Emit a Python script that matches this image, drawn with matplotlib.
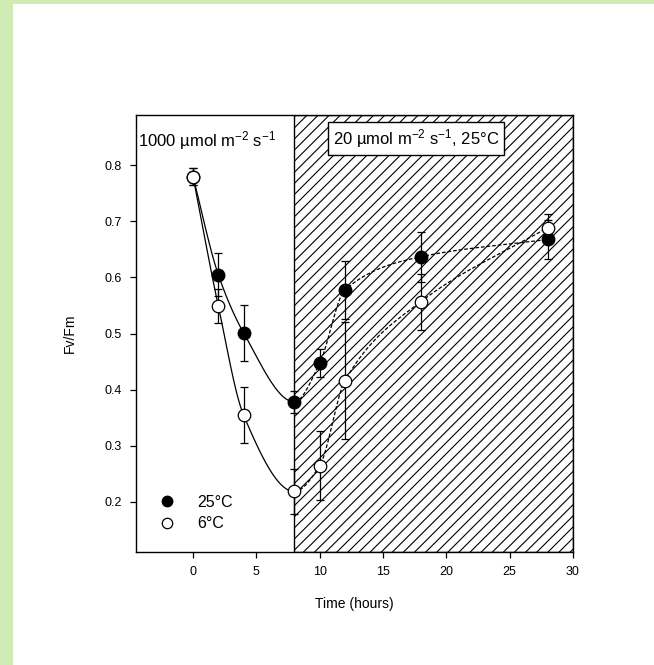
import numpy as np
import matplotlib
matplotlib.use('Agg')
import matplotlib.pyplot as plt
from matplotlib.lines import Line2D
from matplotlib.patches import Rectangle

plt.rcParams['font.family'] = ['Liberation Sans', 'DejaVu Sans']
plt.rcParams['mathtext.fontset'] = 'custom'
plt.rcParams['mathtext.rm'] = 'Liberation Sans'
plt.rcParams['mathtext.default'] = 'rm'
plt.rcParams['hatch.linewidth'] = 0.8

# Time points (hours) and Fv/Fm values
time = [0, 2, 4, 8, 10, 12, 18, 28]
fvfm_25 = [0.78, 0.605, 0.501, 0.378, 0.447, 0.578, 0.637, 0.668]
err_25 = [0.015, 0.038, 0.05, 0.02, 0.025, 0.052, 0.045, 0.035]
fvfm_6 = [0.78, 0.549, 0.354, 0.218, 0.264, 0.416, 0.557, 0.689]
err_6 = [0.015, 0.03, 0.05, 0.04, 0.062, 0.105, 0.05, 0.025]

light_switch = 8  # hours, start of low-light recovery


def pchip(x, y, xn):
    # monotone cubic curve through the points, for drawing only
    x = np.asarray(x, float)
    y = np.asarray(y, float)
    h = np.diff(x)
    d = np.diff(y) / h
    m = np.zeros_like(y)
    m[0], m[-1] = d[0], d[-1]
    for k in range(1, len(x) - 1):
        if d[k - 1] * d[k] > 0:
            w1 = 2 * h[k] + h[k - 1]
            w2 = h[k] + 2 * h[k - 1]
            m[k] = (w1 + w2) / (w1 / d[k - 1] + w2 / d[k])
    idx = np.clip(np.searchsorted(x, xn) - 1, 0, len(x) - 2)
    t = (xn - x[idx]) / h[idx]
    h00 = 2 * t**3 - 3 * t**2 + 1
    h10 = t**3 - 2 * t**2 + t
    h01 = -2 * t**3 + 3 * t**2
    h11 = t**3 - t**2
    return h00 * y[idx] + h10 * h[idx] * m[idx] + h01 * y[idx + 1] + h11 * h[idx] * m[idx + 1]


fig = plt.figure(figsize=(6.54, 6.65), dpi=100)
# green page border of the original slide
fig.patches.append(Rectangle((0, 0), 13 / 654, 1, transform=fig.transFigure,
                             facecolor='#d0ecb4', edgecolor='none', zorder=-1))
fig.patches.append(Rectangle((0, 1 - 4 / 665), 1, 4 / 665, transform=fig.transFigure,
                             facecolor='#d0ecb4', edgecolor='none', zorder=-1))

ax = fig.add_axes([136 / 654, 1 - 552 / 665, 437 / 654, 437 / 665])
ax.set_xlim(-4.5, 30)
ax.set_ylim(0.11, 0.89)

ax.axvspan(light_switch, 30, facecolor='white', edgecolor='black',
           hatch='///', linewidth=1.0, zorder=0)

xs1 = np.linspace(0, light_switch, 100)
xs2 = np.linspace(light_switch, time[-1], 300)
for vals in (fvfm_25, fvfm_6):
    ax.plot(xs1, pchip(time, vals, xs1), color='black', lw=0.9, zorder=2)
    ax.plot(xs2, pchip(time, vals, xs2), color='black', lw=0.9, ls=(0, (3, 1.5)), zorder=2)

ax.errorbar(time, fvfm_25, yerr=err_25, fmt='o', color='black', mfc='black', mec='black',
            ms=9, elinewidth=0.9, capsize=3, capthick=0.9, zorder=3)
ax.errorbar(time, fvfm_6, yerr=err_6, fmt='o', color='black', mfc='white', mec='black',
            ms=9, mew=0.9, elinewidth=0.9, capsize=3, capthick=0.9, zorder=4)

ax.text(-4.35, 0.845, '1000 \u00b5mol m$^{-2}$ s$^{-1}$', fontsize=12, va='center', ha='left')
ax.text(17.6, 0.848, '20 \u00b5mol m$^{-2}$ s$^{-1}$, 25\u00b0C', fontsize=12, va='center', ha='center',
        bbox=dict(boxstyle='square,pad=0.3', facecolor='white', edgecolor='black', linewidth=1.0))

handles = [Line2D([], [], ls='none', marker='o', ms=7.5, mfc='black', mec='black'),
           Line2D([], [], ls='none', marker='o', ms=7.5, mfc='white', mec='black', mew=0.9)]
ax.legend(handles, ['25\u00b0C', '6\u00b0C'], loc='lower left', bbox_to_anchor=(0.038, 0.033),
          frameon=False, fontsize=11.5, handlelength=1.0, handletextpad=1.375,
          labelspacing=0.4, borderaxespad=0.0)

ax.set_xticks([0, 5, 10, 15, 20, 25, 30])
ax.set_yticks([0.2, 0.3, 0.4, 0.5, 0.6, 0.7, 0.8])
ax.set_yticklabels(['0.2', '0.3', '0.4', '0.5', '0.6', '0.7', '0.8'])
ax.tick_params(direction='out', length=4, width=0.9, labelsize=9, top=False, right=False, pad=6)
for sp in ax.spines.values():
    sp.set_linewidth(1.0)

ax.set_xlabel('Time (hours)', fontsize=10, labelpad=14)
ax.set_ylabel('Fv/Fm', fontsize=10, labelpad=20)

fig.savefig('out.png', dpi=100)
